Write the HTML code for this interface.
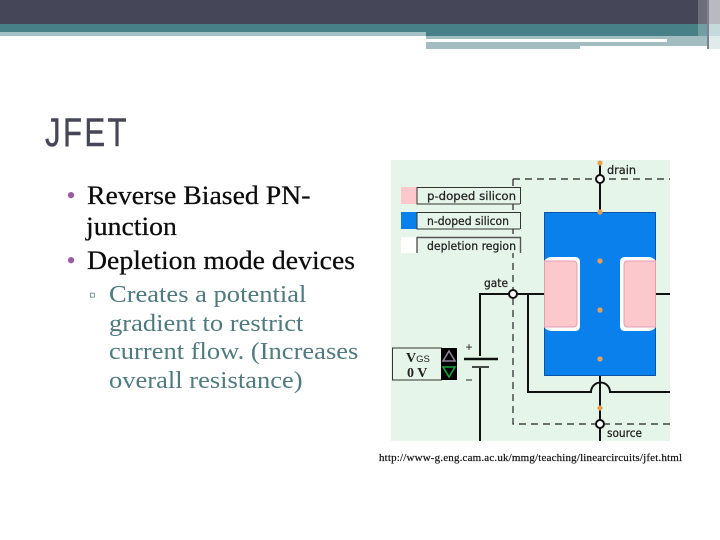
<!DOCTYPE html>
<html><head><meta charset="utf-8"><style>
html,body{margin:0;padding:0;background:#fff}
#p{position:relative;width:720px;height:540px;overflow:hidden;background:#fff}
.a{position:absolute}
.t{position:absolute;white-space:nowrap;font-family:"Liberation Serif",serif;transform-origin:0 0}
.m{font-size:26px;line-height:30px;color:#0c0c0c;transform:scaleX(1.067);-webkit-text-stroke:.25px #0c0c0c}
.b{font-size:26px;line-height:30px;color:#9b5ba5}
.s{font-size:24px;line-height:26px;color:#4f7a80;transform:scaleX(1.105)}
</style></head><body><div id="p">
<div class="a" style="left:0;top:0;width:720px;height:24px;background:#454658"></div>
<div class="a" style="left:0;top:24px;width:720px;height:8px;background:#478086"></div>
<div class="a" style="left:0;top:32px;width:426px;height:4px;background:#a3c1c6"></div>
<div class="a" style="left:426px;top:32px;width:272px;height:4px;background:#478086"></div>
<div class="a" style="left:426px;top:36px;width:281px;height:10px;background:#a3bcc0"></div>
<div class="a" style="left:426px;top:39px;width:241px;height:3px;background:#fff"></div>
<div class="a" style="left:426px;top:46px;width:154px;height:3px;background:#a3bcc0"></div>
<div class="a" style="left:698px;top:0;width:9px;height:24px;background:#6d6e7c"></div>
<div class="a" style="left:707px;top:0;width:2px;height:49px;background:#7e808c"></div>
<div class="a" style="left:709px;top:0;width:11px;height:24px;background:#b9b9c2"></div>
<div class="a" style="left:698px;top:24px;width:9px;height:12px;background:#6f9ea3"></div>
<div class="a" style="left:709px;top:24px;width:11px;height:12px;background:#c4dadc"></div>
<div class="a" style="left:709px;top:36px;width:11px;height:13px;background:#e0ecec"></div>

<div class="t" style="left:45px;top:110px;font:40px/46px 'Liberation Sans',sans-serif;color:#454658;transform:scaleX(.78);letter-spacing:3px;-webkit-text-stroke:.4px #454658">JFET</div>

<div class="t b" style="left:66.5px;top:181px">•</div>
<div class="t m" style="left:87px;top:181px">Reverse Biased PN-</div>
<div class="t m" style="left:86px;top:212px">junction</div>
<div class="t b" style="left:66.5px;top:246px">•</div>
<div class="t m" style="left:87px;top:246px">Depletion mode devices</div>

<div class="t" style="left:89px;top:283px;font-size:19px;line-height:26px;color:#4f7a80">▫</div>
<div class="t s" style="left:109px;top:282px">Creates a potential</div>
<div class="t s" style="left:109px;top:311px">gradient to restrict</div>
<div class="t s" style="left:109px;top:339px">current flow. (Increases</div>
<div class="t s" style="left:109px;top:368px">overall resistance)</div>

<svg class="a" style="left:0;top:0" width="720" height="540" viewBox="0 0 720 540">
<rect x="391" y="160" width="279" height="281" fill="#e6f5ea"/>
<path d="M513 179H670M513 179V290M513 298V424H670" fill="none" stroke="#222" stroke-width="1.2" stroke-dasharray="7 5"/>
<rect x="401" y="187" width="16" height="17" fill="#fcc8cc"/>
<rect x="417" y="187" width="103" height="17" fill="#e6f5ea"/>
<path d="M417 187.5H520.5V204M417 187V204H520" fill="none" stroke="#333" stroke-width="1"/>
<rect x="401" y="212" width="16" height="17" fill="#0a80ec"/>
<rect x="417" y="212" width="103" height="17" fill="#e6f5ea"/>
<path d="M417 212.5H520.5V229M417 212V229H520" fill="none" stroke="#333" stroke-width="1"/>
<rect x="401" y="237" width="16" height="16" fill="#fff"/>
<rect x="417" y="237" width="103" height="16" fill="#e6f5ea"/>
<path d="M417 237.5H520.5V253M417 237V253" fill="none" stroke="#555" stroke-width="1.4"/>
<g font-family="'DejaVu Sans','Liberation Sans',sans-serif" font-size="11.5" fill="#222" stroke="#222" stroke-width=".25">
<text x="427" y="200" textLength="89" lengthAdjust="spacingAndGlyphs">p-doped silicon</text>
<text x="427" y="225" textLength="82" lengthAdjust="spacingAndGlyphs">n-doped silicon</text>
<text x="427" y="250" textLength="89" lengthAdjust="spacingAndGlyphs">depletion region</text>
<text x="607" y="174" textLength="29" lengthAdjust="spacingAndGlyphs">drain</text>
<text x="484" y="287" textLength="24" lengthAdjust="spacingAndGlyphs">gate</text>
<text x="607" y="437" textLength="35" lengthAdjust="spacingAndGlyphs">source</text>
</g>
<rect x="544.5" y="212.5" width="111" height="163" fill="#0a80ec" stroke="#0b55a8" stroke-width="1"/>
<path d="M544 261Q547 257 552 257H575Q580 257 580 262V326Q580 331 575 331H552Q547 331 544 327Z" fill="#fff"/>
<path d="M656 261Q653 257 648 257H625Q620 257 620 262V326Q620 331 625 331H648Q653 331 656 327Z" fill="#fff"/>
<path d="M544.5 261H573Q577 261 577 265V323Q577 327 573 327H544.5Z" fill="#fcc8cc" stroke="#e69ab0" stroke-width="1"/>
<path d="M655.5 261H628Q624 261 624 265V323Q624 327 628 327H655.5Z" fill="#fcc8cc" stroke="#e69ab0" stroke-width="1"/>
<g fill="none" stroke="#111" stroke-width="2">
<path d="M600 165V212M600 376V441"/>
<path d="M544 294H480V356M480 368V441"/>
<path d="M528 294V392H591A9.5 9.5 0 0 1 610 392H670"/>
<path d="M656 294H670"/>
<path d="M464 359H498" stroke-width="2.4"/>
<path d="M472 367H489" stroke-width="1.6"/>
</g>
<circle cx="600" cy="179" r="4" fill="#fff" stroke="#111" stroke-width="2"/>
<circle cx="513" cy="294" r="4" fill="#fff" stroke="#111" stroke-width="2"/>
<circle cx="600" cy="424" r="4" fill="#fff" stroke="#111" stroke-width="2"/>
<g fill="#e8a050">
<circle cx="600" cy="163" r="2.6"/><circle cx="600" cy="212" r="2.6"/><circle cx="600" cy="261" r="2.6"/>
<circle cx="600" cy="310" r="2.6"/><circle cx="600" cy="359" r="2.6"/><circle cx="600" cy="408" r="2.6"/>
</g>
<text x="469" y="351" font-family="'Liberation Sans',sans-serif" font-size="12" fill="#222" text-anchor="middle">+</text>
<path d="M466 380H472" stroke="#222" stroke-width="1"/>
<rect x="392.5" y="348" width="49" height="32" fill="#e6f5ea" stroke="#333" stroke-width="1"/>
<rect x="441" y="348" width="16" height="32" fill="#000"/>
<path d="M449 351L455 361H443Z" fill="none" stroke="#8d8598" stroke-width="1.6"/>
<path d="M449 377L455 367H443Z" fill="none" stroke="#16a83a" stroke-width="1.6"/>
<text x="406" y="362" font-family="'Liberation Serif',serif" font-size="14" font-weight="bold" fill="#222">V<tspan font-size="9.5" font-family="'Liberation Sans',sans-serif" font-weight="normal">GS</tspan></text>
<text x="407" y="377" font-family="'Liberation Serif',serif" font-size="14" font-weight="bold" fill="#222">0 V</text>
</svg>
<div class="t" style="left:379px;top:451px;font-size:11px;line-height:14px;color:#111;letter-spacing:0.17px;-webkit-text-stroke:.2px #111">http://www-g.eng.cam.ac.uk/mmg/teaching/linearcircuits/jfet.html</div>
</div></body></html>
